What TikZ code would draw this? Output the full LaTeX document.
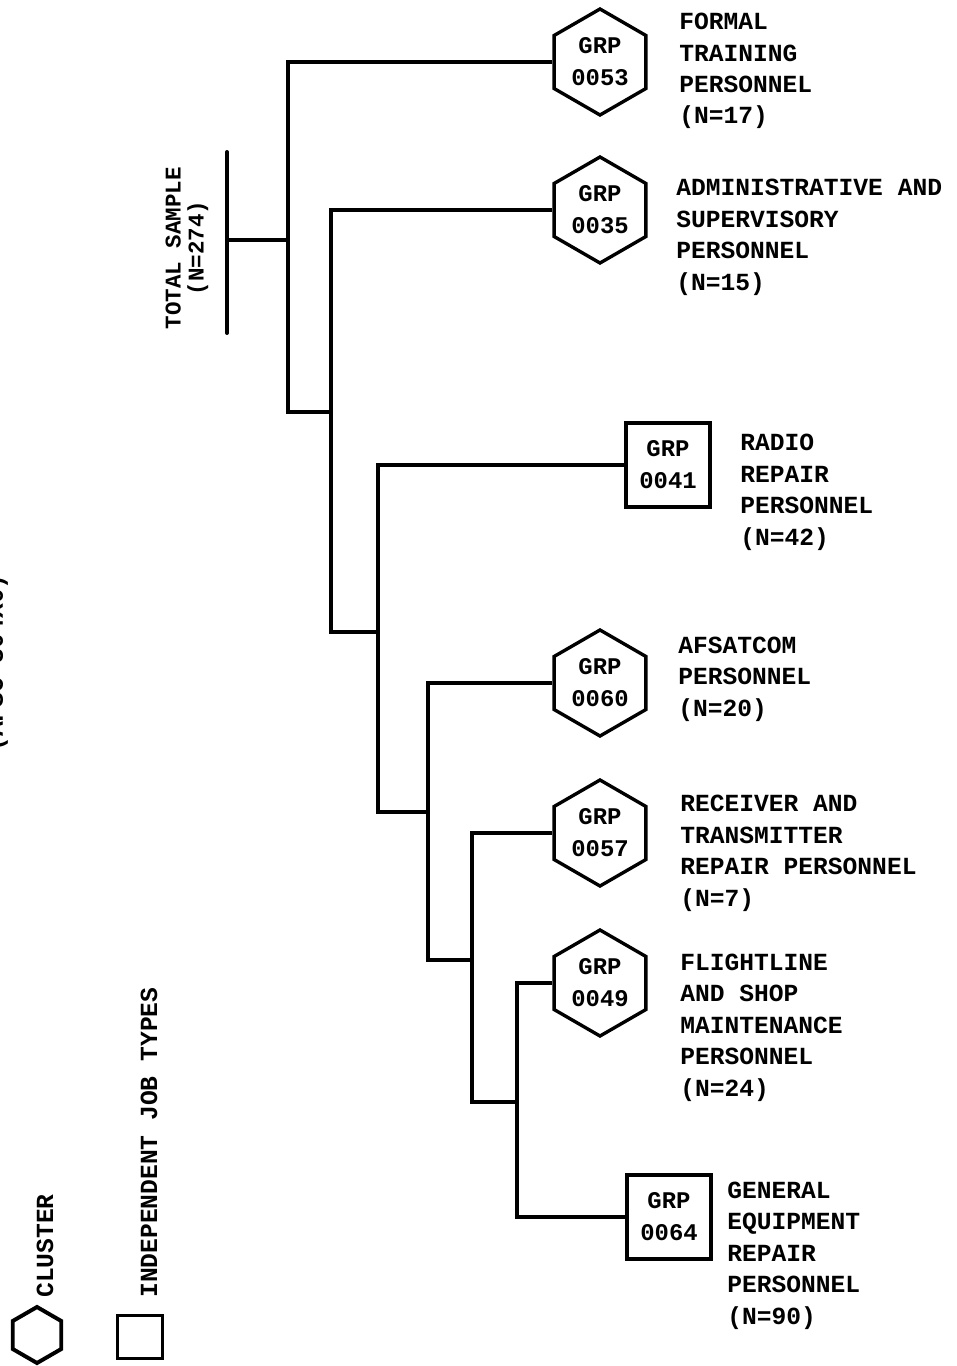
\documentclass[tikz,border=0pt]{standalone}
\usepackage{fontspec}
\newfontfamily\typefont{Liberation Mono}
\usepackage{tikz}
\usetikzlibrary{shapes.geometric}

\begin{document}
\begin{tikzpicture}[
  x=0.025cm, y=-0.025cm,
  every node/.style={font=\typefont\bfseries\fontsize{17.5pt}{22.4pt}\selectfont},
  grp/.style={draw, line width=2.4pt, inner sep=0pt, align=center,
              font=\typefont\bfseries\fontsize{17pt}{22.7pt}\selectfont},
  hexa/.style={grp, regular polygon, regular polygon sides=6, shape border rotate=90,
               minimum size=2.65cm},
  sqbox/.style={grp, rectangle, line width=2.8pt, minimum width=2.1cm, minimum height=2.1cm},
  lbl/.style={anchor=base west, align=left, inner sep=0pt}, % base = last line
  side/.style={rotate=90, anchor=base west, inner sep=0pt},
  link/.style={line width=2.8pt},
]
  \useasboundingbox (0,0) rectangle (956,1366);

  % Side title (cut at the page edge)
  \node[rotate=90, anchor=base, inner sep=0pt] (title) at (3,663) {(AFSC 304X0)};

  % Total sample bar
  \coordinate (barT) at (227,152);
  \coordinate (barB) at (227,333);
  \coordinate (barM) at (227,240);
  \node[rotate=90, align=center, inner sep=0pt,
        font=\typefont\bfseries\fontsize{16pt}{16.4pt}\selectfont] (total) at (187,248)
    {TOTAL SAMPLE\\(N=274)};

  % Groups
  \node[hexa]  (g53) at (600,62)   {GRP\\0053};
  \node[hexa]  (g35) at (600,210)  {GRP\\0035};
  \node[sqbox] (g41) at (668,465)  {GRP\\0041};
  \node[hexa]  (g60) at (600,683)  {GRP\\0060};
  \node[hexa]  (g57) at (600,833)  {GRP\\0057};
  \node[hexa]  (g49) at (600,983)  {GRP\\0049};
  \node[sqbox] (g64) at (669,1217) {GRP\\0064};

  % Group labels
  \node[lbl] (t53) at (679,124)  {FORMAL\\TRAINING\\PERSONNEL\\(N=17)};
  \node[lbl] (t35) at (676,290)  {ADMINISTRATIVE AND\\SUPERVISORY\\PERSONNEL\\(N=15)};
  \node[lbl] (t41) at (740,545)  {RADIO\\REPAIR\\PERSONNEL\\(N=42)};
  \node[lbl] (t60) at (678,716)  {AFSATCOM\\PERSONNEL\\(N=20)};
  \node[lbl] (t57) at (680,906)  {RECEIVER AND\\TRANSMITTER\\REPAIR PERSONNEL\\(N=7)};
  \node[lbl] (t49) at (680,1096) {FLIGHTLINE\\AND SHOP\\MAINTENANCE\\PERSONNEL\\(N=24)};
  \node[lbl] (t64) at (727,1324) {GENERAL\\EQUIPMENT\\REPAIR\\PERSONNEL\\(N=90)};

  % Tree joints
  \coordinate (n1) at (288,412);
  \coordinate (n2) at (331,632);
  \coordinate (n3) at (378,812);
  \coordinate (n4) at (428,960);
  \coordinate (n5) at (472,1102);
  \coordinate (n6) at (517,1102);

  \draw[link, line cap=round] (barT) -- (barB);
  \draw[link] (barM) -- (barM -| n1);
  \draw[link] (g53.west) -| (n1) -- (n1 -| n2);
  \draw[link] (g35.west) -| (n2) -- (n2 -| n3);
  \draw[link] (g41.west) -| (n3) -- (n3 -| n4);
  \draw[link] (g60.west) -| (n4) -- (n4 -| n5);
  \draw[link] (g57.west) -| (n5) -- (n6);
  \draw[link] (g49.west) -| (n6) |- (g64.west);

  % Legend
  \node[hexa, minimum size=1.4cm, line width=2.8pt] (keyhex) at (37,1335) {};
  \node[sqbox, minimum width=1.125cm, minimum height=1.075cm] (keysq) at (140,1337) {};
  \node[side] (keyhext) at (53,1298)  {CLUSTER};
  \node[side] (keysqt)  at (157,1298) {INDEPENDENT JOB TYPES};
\end{tikzpicture}
\end{document}
